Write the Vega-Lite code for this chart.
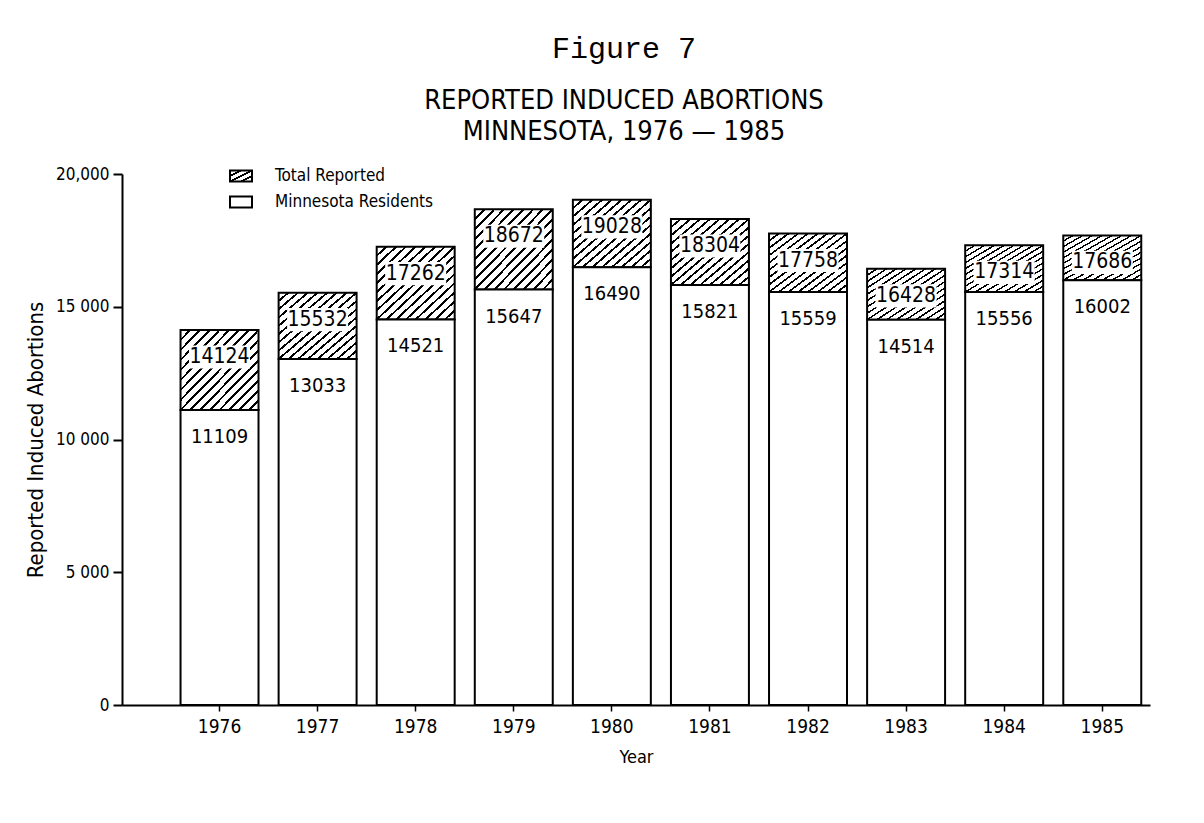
{
  "$schema": "https://vega.github.io/schema/vega-lite/v6.json",
  "autosize": "none",
  "width": 1028,
  "height": 531,
  "padding": {"left": 122, "top": 174, "right": 54, "bottom": 118},
  "background": "white",
  "title": {
    "text": "Figure 7",
    "subtitle": ["REPORTED INDUCED ABORTIONS", "MINNESOTA, 1976 — 1985"],
    "font": "Liberation Mono",
    "fontSize": 30,
    "fontWeight": "normal",
    "color": "black",
    "subtitleFont": "Liberation Sans Narrow, DejaVu Sans Condensed",
    "subtitleFontSize": 27,
    "subtitleColor": "black",
    "subtitleLineHeight": 31,
    "subtitlePadding": 24,
    "anchor": "middle",
    "frame": "group",
    "offset": 19,
    "dx": -12
  },
  "data": {
    "values": [
      {"year": "1976", "total": 14124, "residents": 11109},
      {"year": "1977", "total": 15532, "residents": 13033},
      {"year": "1978", "total": 17262, "residents": 14521},
      {"year": "1979", "total": 18672, "residents": 15647},
      {"year": "1980", "total": 19028, "residents": 16490},
      {"year": "1981", "total": 18304, "residents": 15821},
      {"year": "1982", "total": 17758, "residents": 15559},
      {"year": "1983", "total": 16428, "residents": 14514},
      {"year": "1984", "total": 17314, "residents": 15556},
      {"year": "1985", "total": 17686, "residents": 16002}
    ]
  },
  "encoding": {
    "x": {
      "field": "year",
      "type": "ordinal",
      "scale": {"paddingInner": 0.205, "paddingOuter": 0.343, "align": 0.87},
      "axis": {
        "title": "Year",
        "labelAngle": 0,
        "labelFont": "DejaVu Sans Condensed, DejaVu Sans",
        "labelFontSize": 19,
        "labelColor": "black",
        "labelPadding": 6,
        "titleFont": "DejaVu Sans Condensed, DejaVu Sans",
        "titleFontSize": 18,
        "titleFontWeight": "normal",
        "titleColor": "black",
        "titlePadding": 12,
        "domainColor": "black",
        "domainWidth": 2,
        "tickColor": "black",
        "tickWidth": 1.5,
        "tickSize": 6
      }
    }
  },
  "layer": [
    {
      "mark": {"type": "bar", "opacity": 0},
      "encoding": {
        "fill": {
          "datum": "Total Reported",
          "scale": {
            "domain": ["Total Reported", "Minnesota Residents"],
            "range": [
              {"expr": "{gradient: 'linear', x1: 0, y1: 0, x2: 1, y2: 1, stops: [{offset: 0, color: 'black'}, {offset: 0.05, color: 'black'}, {offset: 0.05, color: 'white'}, {offset: 0.2, color: 'white'}, {offset: 0.2, color: 'black'}, {offset: 0.3, color: 'black'}, {offset: 0.3, color: 'white'}, {offset: 0.45, color: 'white'}, {offset: 0.45, color: 'black'}, {offset: 0.55, color: 'black'}, {offset: 0.55, color: 'white'}, {offset: 0.7, color: 'white'}, {offset: 0.7, color: 'black'}, {offset: 0.8, color: 'black'}, {offset: 0.8, color: 'white'}, {offset: 0.95, color: 'white'}, {offset: 0.95, color: 'black'}, {offset: 1, color: 'black'}]}"},
              "white"
            ]
          },
          "legend": {
            "orient": "none",
            "legendX": 107,
            "legendY": -10,
            "title": null,
            "padding": 0,
            "symbolType": "M-1,-0.5H1V0.5H-1Z",
            "symbolSize": 484,
            "symbolOpacity": 1,
            "symbolStrokeColor": "black",
            "symbolStrokeWidth": 2,
            "labelFont": "DejaVu Sans Condensed, DejaVu Sans",
            "labelFontSize": 17,
            "labelColor": "black",
            "labelOffset": 22,
            "rowPadding": 4,
            "labelLimit": 300
          }
        }
      }
    },
    {
      "mark": {"type": "bar", "stroke": "black", "strokeWidth": 2,
        "fill": {"gradient": "linear", "x1": 0, "y1": 0, "x2": 1, "y2": 1, "stops": [
          {"offset": 0, "color": "black"}, {"offset": 0.009, "color": "black"}, {"offset": 0.009, "color": "white"},
          {"offset": 0.0535, "color": "white"}, {"offset": 0.0535, "color": "black"}, {"offset": 0.0715, "color": "black"}, {"offset": 0.0715, "color": "white"},
          {"offset": 0.116, "color": "white"}, {"offset": 0.116, "color": "black"}, {"offset": 0.134, "color": "black"}, {"offset": 0.134, "color": "white"},
          {"offset": 0.1785, "color": "white"}, {"offset": 0.1785, "color": "black"}, {"offset": 0.1965, "color": "black"}, {"offset": 0.1965, "color": "white"},
          {"offset": 0.241, "color": "white"}, {"offset": 0.241, "color": "black"}, {"offset": 0.259, "color": "black"}, {"offset": 0.259, "color": "white"},
          {"offset": 0.3035, "color": "white"}, {"offset": 0.3035, "color": "black"}, {"offset": 0.3215, "color": "black"}, {"offset": 0.3215, "color": "white"},
          {"offset": 0.366, "color": "white"}, {"offset": 0.366, "color": "black"}, {"offset": 0.384, "color": "black"}, {"offset": 0.384, "color": "white"},
          {"offset": 0.4285, "color": "white"}, {"offset": 0.4285, "color": "black"}, {"offset": 0.4465, "color": "black"}, {"offset": 0.4465, "color": "white"},
          {"offset": 0.491, "color": "white"}, {"offset": 0.491, "color": "black"}, {"offset": 0.509, "color": "black"}, {"offset": 0.509, "color": "white"},
          {"offset": 0.5535, "color": "white"}, {"offset": 0.5535, "color": "black"}, {"offset": 0.5715, "color": "black"}, {"offset": 0.5715, "color": "white"},
          {"offset": 0.616, "color": "white"}, {"offset": 0.616, "color": "black"}, {"offset": 0.634, "color": "black"}, {"offset": 0.634, "color": "white"},
          {"offset": 0.6785, "color": "white"}, {"offset": 0.6785, "color": "black"}, {"offset": 0.6965, "color": "black"}, {"offset": 0.6965, "color": "white"},
          {"offset": 0.741, "color": "white"}, {"offset": 0.741, "color": "black"}, {"offset": 0.759, "color": "black"}, {"offset": 0.759, "color": "white"},
          {"offset": 0.8035, "color": "white"}, {"offset": 0.8035, "color": "black"}, {"offset": 0.8215, "color": "black"}, {"offset": 0.8215, "color": "white"},
          {"offset": 0.866, "color": "white"}, {"offset": 0.866, "color": "black"}, {"offset": 0.884, "color": "black"}, {"offset": 0.884, "color": "white"},
          {"offset": 0.9285, "color": "white"}, {"offset": 0.9285, "color": "black"}, {"offset": 0.9465, "color": "black"}, {"offset": 0.9465, "color": "white"},
          {"offset": 0.991, "color": "white"}, {"offset": 0.991, "color": "black"}, {"offset": 1, "color": "black"}
        ]}
      },
      "encoding": {
        "y": {
          "field": "residents",
          "type": "quantitative",
          "scale": {"domain": [0, 20000]},
          "axis": {
            "values": [0, 5000, 10000, 15000, 20000],
            "labelExpr": "datum.value == 20000 ? '20,000' : replace(format(datum.value, ','), ',', ' ')",
            "grid": false,
            "title": "Reported Induced Abortions",
            "labelFont": "DejaVu Sans Condensed, DejaVu Sans",
            "labelFontSize": 17,
            "labelColor": "black",
            "labelPadding": 4,
            "titleFont": "DejaVu Sans Condensed, DejaVu Sans",
            "titleFontSize": 22,
            "titleFontWeight": "normal",
            "titleColor": "black",
            "titlePadding": 8,
            "domainColor": "black",
            "domainWidth": 2,
            "tickColor": "black",
            "tickWidth": 2,
            "tickSize": 9
          }
        },
        "y2": {"field": "total"}
      }
    },
    {
      "mark": {"type": "bar", "stroke": "black", "strokeWidth": 2, "fill": "white"},
      "encoding": {
        "y": {"field": "residents", "type": "quantitative"}
      }
    },
    {
      "mark": {"type": "point", "shape": "M-1,-0.38H1V0.38H-1Z", "size": 3721, "filled": true, "color": "white", "opacity": 1, "strokeWidth": 0, "yOffset": 27},
      "encoding": {"y": {"field": "total", "type": "quantitative"}}
    },
    {
      "mark": {"type": "text", "font": "DejaVu Sans Condensed, DejaVu Sans", "fontSize": 21, "color": "black", "baseline": "middle", "yOffset": 27},
      "encoding": {"y": {"field": "total", "type": "quantitative"}, "text": {"field": "total", "type": "quantitative", "format": "d"}}
    },
    {
      "mark": {"type": "text", "font": "DejaVu Sans Condensed, DejaVu Sans", "fontSize": 20, "color": "black", "baseline": "middle", "yOffset": 27},
      "encoding": {"y": {"field": "residents", "type": "quantitative"}, "text": {"field": "residents", "type": "quantitative", "format": "d"}}
    }
  ],
  "config": {"view": {"stroke": null}}
}
